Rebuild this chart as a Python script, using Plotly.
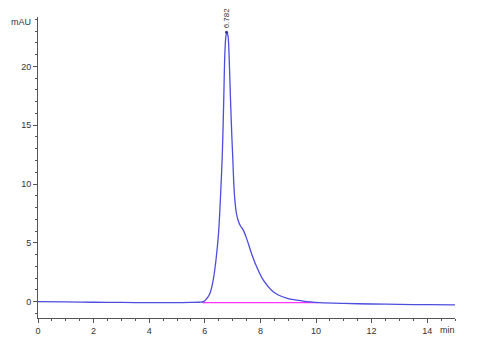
import plotly.graph_objects as go

# chromatogram trace (min, mAU)
time_min = [0, 1, 2, 3, 4, 5, 5.5, 5.8, 5.95, 6.1, 6.2, 6.3, 6.4, 6.5, 6.57, 6.63,
            6.68, 6.72, 6.76, 6.8, 6.84, 6.88, 6.92, 6.97, 7.01, 7.04, 7.08, 7.13,
            7.2, 7.28, 7.38, 7.5, 7.68, 7.86, 8.1, 8.46, 8.94, 9.53, 10.13, 11, 12,
            13, 14, 15]
signal_mau = [0.0, -0.02, -0.05, -0.07, -0.08, -0.08, -0.07, -0.05, 0.0, 0.35, 0.8,
              1.8, 3.5, 6.0, 9.2, 12.5, 17.0, 21.0, 22.6, 22.9, 22.5, 20.5, 17.5,
              14.2, 12.0, 10.2, 8.7, 7.6, 6.9, 6.45, 6.1, 5.4, 4.1, 3.0, 1.85, 0.85,
              0.3, 0.05, -0.08, -0.15, -0.2, -0.23, -0.26, -0.28]

# integration baseline
baseline_x = [5.92, 10.1]
baseline_y = [-0.08, -0.09]

# peak annotation
peak_rt = 6.782
peak_height = 22.9
peak_label = "6.782"

x_ticks = [0, 2, 4, 6, 8, 10, 12, 14]
y_ticks = [0, 5, 10, 15, 20]

fig = go.Figure()
fig.add_trace(go.Scatter(x=baseline_x, y=baseline_y, mode="lines",
                         line=dict(color="#ff33ff", width=1.3), hoverinfo="skip"))
fig.add_trace(go.Scatter(x=time_min, y=signal_mau, mode="lines",
                         line=dict(color="#4d4de0", width=1.3, shape="spline", smoothing=0.8)))
fig.add_trace(go.Scatter(x=[peak_rt], y=[peak_height], mode="markers",
                         marker=dict(color="#333399", size=3)))

fig.add_annotation(x=peak_rt, y=peak_height, text=peak_label, textangle=-90,
                   showarrow=False, yanchor="bottom", xanchor="center", yshift=2,
                   font=dict(family="Arial, Liberation Sans", size=8, color="#333333"))
fig.add_annotation(x=0, y=1, xref="paper", yref="paper", text="mAU",
                   showarrow=False, xanchor="right", yanchor="middle",
                   font=dict(family="Arial, Liberation Sans", size=9, color="#333333"),
                   xshift=-5, yshift=-5)
fig.add_annotation(x=1, y=0, xref="paper", yref="paper", text="min",
                   showarrow=False, xanchor="right", yanchor="top",
                   font=dict(family="Arial, Liberation Sans", size=9, color="#333333"),
                   yshift=-5, xshift=2)

axis_font = dict(family="Arial, Liberation Sans", size=9, color="#333333")
fig.update_layout(
    width=477, height=350,
    margin=dict(l=38, r=22, t=17, b=32),
    plot_bgcolor="white", paper_bgcolor="white",
    showlegend=False,
    xaxis=dict(range=[0, 15], tickvals=x_ticks, showgrid=False, zeroline=False,
               showline=True, linecolor="#555555", linewidth=1,
               ticks="outside", ticklen=4, tickcolor="#555555", tickfont=axis_font,
               minor=dict(dtick=0.5, tick0=0, ticks="outside", ticklen=2, tickcolor="#555555")),
    yaxis=dict(range=[-1.39, 24.2], tickvals=y_ticks, showgrid=False, zeroline=False,
               showline=True, linecolor="#555555", linewidth=1,
               ticks="outside", ticklen=4, tickcolor="#555555", tickfont=axis_font,
               minor=dict(dtick=1, tick0=0, ticks="outside", ticklen=2, tickcolor="#555555")),
)

fig.write_html("out.html")
